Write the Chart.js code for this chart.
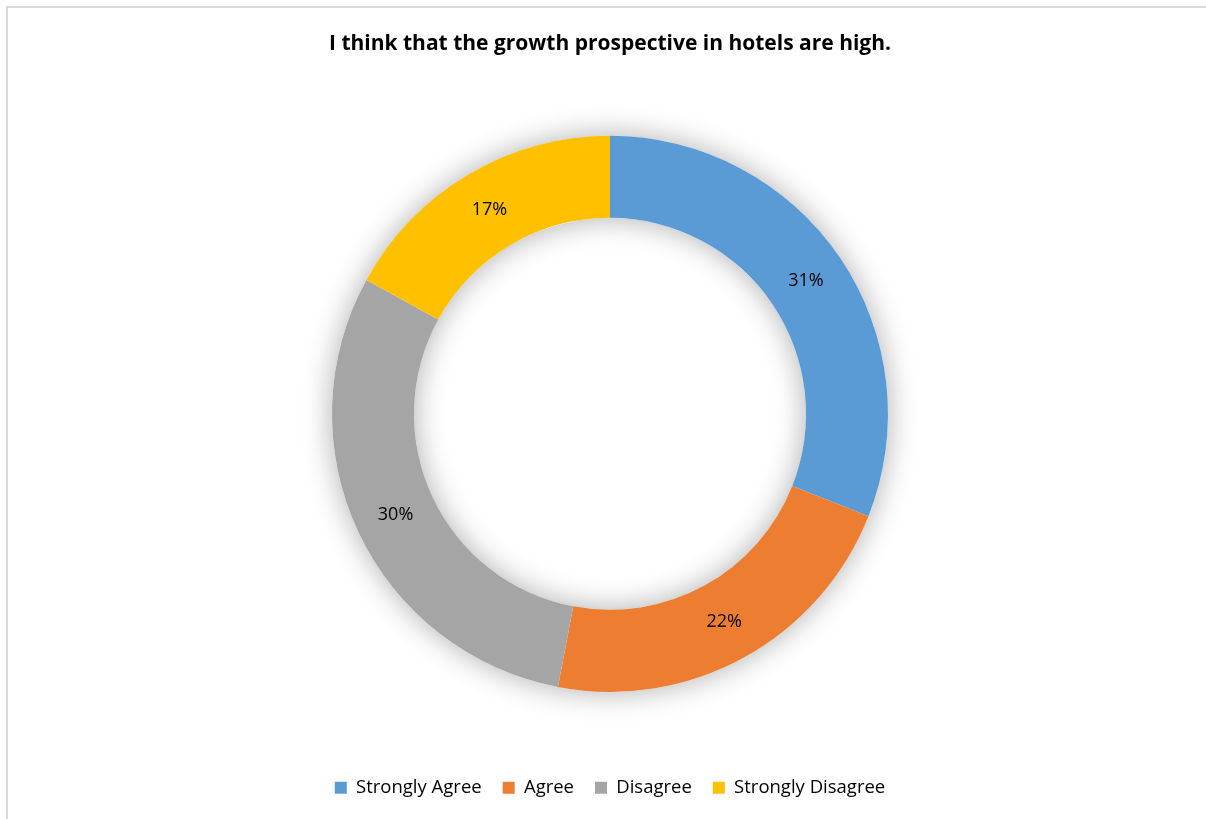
<!DOCTYPE html>
<html>
<head>
<meta charset="utf-8">
<script src="https://cdn.jsdelivr.net/npm/chart.js"></script>
<style>
  html, body { margin: 0; padding: 0; background: #fff; }
  #frame {
    position: absolute; left: 6px; top: 6px; width: 1300px; height: 900px;
    border-left: 2px solid #d9d9d9; border-top: 2px solid #d9d9d9;
  }
  #myChart { position: absolute; left: 0; top: 0; }
</style>
</head>
<body>
<div id="frame"></div>
<canvas id="myChart" width="1206" height="819"></canvas>
<script>
var categories = ['Strongly Agree', 'Agree', 'Disagree', 'Strongly Disagree'];
var shares = [31, 22, 30, 17];
var sliceColors = ['#5B9BD5', '#ED7D31', '#A5A5A5', '#FFC000'];
var chartTitle = 'I think that the growth prospective in hotels are high.';

var FONT = "'Open Sans', 'Noto Sans', sans-serif";

// soft shadow under the whole ring, drawn once before the slices
var ringShadow = {
    id: 'ringShadow',
    beforeDatasetsDraw: function (chart) {
        var arc = chart.getDatasetMeta(0).data[0];
        if (!arc) return;
        var ctx = chart.ctx;
        ctx.save();
        ctx.shadowColor = 'rgba(0,0,0,0.32)';
        ctx.shadowBlur = 30;
        ctx.fillStyle = '#ffffff';
        ctx.beginPath();
        ctx.arc(arc.x, arc.y, arc.outerRadius, 0, Math.PI * 2);
        ctx.arc(arc.x, arc.y, arc.innerRadius, Math.PI * 2, 0, true);
        ctx.closePath();
        ctx.fill();
        ctx.restore();
    }
};

// percentage text in the middle of each slice
var sliceLabels = {
    id: 'sliceLabels',
    afterDatasetsDraw: function (chart) {
        var ctx = chart.ctx;
        var meta = chart.getDatasetMeta(0);
        ctx.save();
        ctx.font = '18px ' + FONT;
        ctx.fillStyle = '#000';
        ctx.textAlign = 'center';
        ctx.textBaseline = 'middle';
        meta.data.forEach(function (arc, i) {
            var p = arc.tooltipPosition();
            ctx.fillText(shares[i] + '%', p.x, p.y);
        });
        ctx.restore();
    }
};

var ctx = document.getElementById('myChart').getContext('2d');
window.myChart = new Chart(ctx, {
    type: 'doughnut',
    data: {
        labels: categories,
        datasets: [{
            data: shares,
            backgroundColor: sliceColors,
            borderWidth: 0,
            radius: 278,
            cutout: '70.5%'
        }]
    },
    options: {
        responsive: false,
        animation: false,
        layout: { padding: { top: 0, bottom: 12, left: 14 } },
        plugins: {
            title: {
                display: true,
                text: chartTitle,
                color: '#000',
                font: { family: FONT, size: 21, weight: 'bold' },
                padding: { top: 31, bottom: 14 }
            },
            legend: {
                position: 'bottom',
                labels: {
                    color: '#000',
                    font: { family: FONT, size: 18.5 },
                    boxWidth: 12,
                    boxHeight: 12,
                    padding: 21
                }
            },
            tooltip: { enabled: false }
        }
    },
    plugins: [ringShadow, sliceLabels]
});
</script>
</body>
</html>
